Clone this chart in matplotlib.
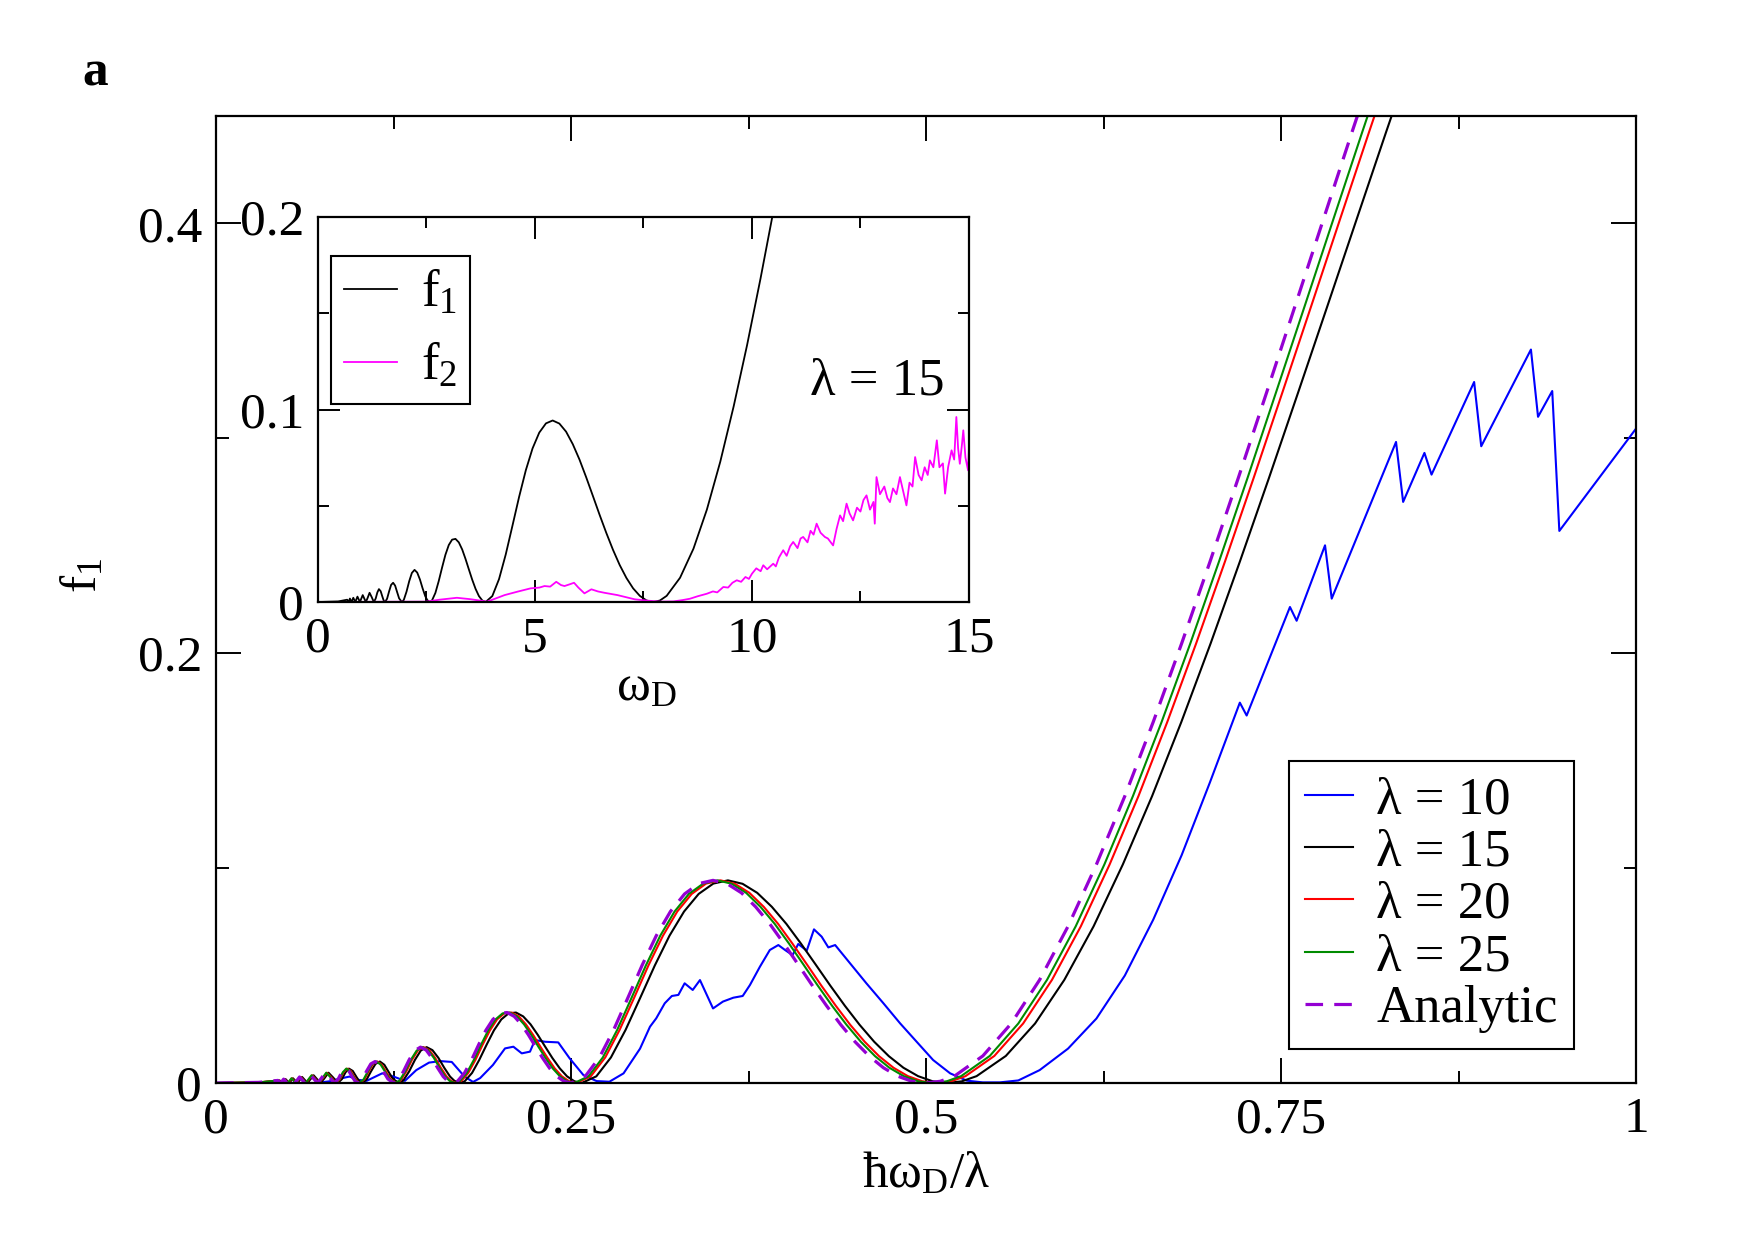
import matplotlib.pyplot as plt
from matplotlib.ticker import MultipleLocator

plt.rcParams['font.family'] = ['Liberation Serif', 'DejaVu Serif']
plt.rcParams['mathtext.fontset'] = 'custom'
plt.rcParams['mathtext.rm'] = 'Liberation Serif'
plt.rcParams['mathtext.it'] = 'Liberation Serif:italic'

# --- data ---------------------------------------------------------------
# hbar*omega_D / lambda positions of the analytic curve
x_analytic = [0.0, 0.03, 0.0435, 0.0455, 0.0476, 0.05, 0.0526, 0.0556, 0.0588, 0.0625,
              0.0667, 0.0714, 0.074, 0.0769, 0.080, 0.0833, 0.086, 0.0885, 0.0909, 0.0935,
              0.096, 0.098, 0.1, 0.103, 0.106, 0.109, 0.112, 0.115, 0.118, 0.121,
              0.125, 0.128, 0.132, 0.136, 0.140, 0.144, 0.148, 0.152, 0.156, 0.160,
              0.163, 0.1667, 0.17, 0.175, 0.18, 0.185, 0.19, 0.195, 0.20, 0.205,
              0.21, 0.215, 0.22, 0.225, 0.23, 0.235, 0.24, 0.245, 0.25, 0.26,
              0.27, 0.28, 0.29, 0.30, 0.31, 0.32, 0.33, 0.34, 0.35, 0.36,
              0.37, 0.38, 0.39, 0.40, 0.41, 0.42, 0.43, 0.44, 0.45, 0.46,
              0.47, 0.48, 0.49, 0.50, 0.51, 0.52, 0.54, 0.56, 0.58, 0.60,
              0.62, 0.64, 0.66, 0.68, 0.70, 0.72, 0.74, 0.76, 0.78, 0.80, 0.82]
# the lambda = 15, 20, 25 curves have the same heights, slightly shifted right
x_l15 = [0.0, 0.0309, 0.0448, 0.0469, 0.0490, 0.0515, 0.0542, 0.0573, 0.0606, 0.0644,
         0.0687, 0.0735, 0.0762, 0.0792, 0.0824, 0.0858, 0.0886, 0.0912, 0.0936, 0.0963,
         0.0989, 0.1009, 0.103, 0.1061, 0.1092, 0.1123, 0.1154, 0.1185, 0.1215, 0.1246,
         0.1288, 0.1318, 0.1360, 0.1401, 0.1442, 0.1483, 0.1524, 0.1566, 0.1607, 0.1648,
         0.1679, 0.1717, 0.1751, 0.1803, 0.1854, 0.1906, 0.1957, 0.2009, 0.206, 0.2112,
         0.2163, 0.2215, 0.2266, 0.2318, 0.2369, 0.2421, 0.2472, 0.2524, 0.2575, 0.2678,
         0.2781, 0.2884, 0.2987, 0.309, 0.3193, 0.3296, 0.3399, 0.3502, 0.3605, 0.3708,
         0.3811, 0.3914, 0.4017, 0.412, 0.4223, 0.4326, 0.4429, 0.4532, 0.4635, 0.4738,
         0.4841, 0.4944, 0.5047, 0.515, 0.5253, 0.5356, 0.5562, 0.5768, 0.5974, 0.618,
         0.6386, 0.6592, 0.6798, 0.7004, 0.721, 0.7416, 0.7622, 0.7828, 0.8034, 0.824, 0.8446]
x_l20 = [0.0, 0.0305, 0.0442, 0.0462, 0.0483, 0.0508, 0.0534, 0.0564, 0.0597, 0.0634,
         0.0677, 0.0725, 0.0751, 0.0781, 0.0812, 0.0845, 0.0873, 0.0898, 0.0923, 0.0949,
         0.0974, 0.0995, 0.1015, 0.1045, 0.1076, 0.1106, 0.1137, 0.1167, 0.1198, 0.1228,
         0.1269, 0.1299, 0.1340, 0.1380, 0.1421, 0.1462, 0.1502, 0.1543, 0.1583, 0.1624,
         0.1654, 0.1692, 0.1726, 0.1776, 0.1827, 0.1878, 0.1929, 0.1979, 0.2030, 0.2081,
         0.2132, 0.2182, 0.2233, 0.2284, 0.2335, 0.2385, 0.2436, 0.2487, 0.2538, 0.2639,
         0.2741, 0.2842, 0.2944, 0.3045, 0.3147, 0.3248, 0.3350, 0.3451, 0.3553, 0.3654,
         0.3756, 0.3857, 0.3959, 0.4060, 0.4162, 0.4263, 0.4365, 0.4466, 0.4568, 0.4669,
         0.4771, 0.4872, 0.4974, 0.5075, 0.5177, 0.5278, 0.5481, 0.5684, 0.5887, 0.6090,
         0.6293, 0.6496, 0.6699, 0.6902, 0.7105, 0.7308, 0.7511, 0.7714, 0.7917, 0.8120, 0.8323]
x_l25 = [0.0, 0.0303, 0.0439, 0.0459, 0.0480, 0.0505, 0.0531, 0.0561, 0.0593, 0.0631,
         0.0673, 0.0720, 0.0747, 0.0776, 0.0807, 0.0840, 0.0868, 0.0893, 0.0917, 0.0943,
         0.0969, 0.0989, 0.1009, 0.1039, 0.1070, 0.1100, 0.1130, 0.1160, 0.1191, 0.1221,
         0.1261, 0.1292, 0.1332, 0.1372, 0.1413, 0.1453, 0.1493, 0.1534, 0.1574, 0.1614,
         0.1645, 0.1682, 0.1715, 0.1766, 0.1816, 0.1867, 0.1917, 0.1968, 0.2018, 0.2068,
         0.2119, 0.2169, 0.2220, 0.2270, 0.2321, 0.2371, 0.2422, 0.2472, 0.2523, 0.2623,
         0.2724, 0.2825, 0.2926, 0.3027, 0.3128, 0.3229, 0.3330, 0.3431, 0.3532, 0.3632,
         0.3733, 0.3834, 0.3935, 0.4036, 0.4137, 0.4238, 0.4339, 0.4440, 0.4541, 0.4641,
         0.4742, 0.4843, 0.4944, 0.5045, 0.5146, 0.5247, 0.5449, 0.5650, 0.5852, 0.6054,
         0.6256, 0.6457, 0.6659, 0.6861, 0.7063, 0.7265, 0.7466, 0.7668, 0.7870, 0.8072, 0.8274]
f1_vals = [0.0, 0.0003, 0.0012, 0.0, 0.0018, 0.0, 0.0022, 0.0, 0.0028, 0.0,
           0.0036, 0.0, 0.0021, 0.0048, 0.0026, 0.0, 0.0018, 0.0050, 0.0067, 0.0056,
           0.0028, 0.0008, 0.0, 0.0017, 0.0055, 0.0089, 0.0100, 0.0085, 0.0052, 0.0019,
           0.0, 0.0011, 0.0054, 0.0108, 0.0151, 0.0167, 0.0153, 0.0117, 0.0071, 0.0030,
           0.0010, 0.0, 0.0008, 0.0047, 0.0108, 0.0179, 0.0245, 0.0296, 0.0324, 0.0328,
           0.0310, 0.0273, 0.0224, 0.0169, 0.0116, 0.0068, 0.0031, 0.0008, 0.0, 0.0031,
           0.0119, 0.0247, 0.0396, 0.0547, 0.0685, 0.0798, 0.0880, 0.0928, 0.0943, 0.0927,
           0.0885, 0.0820, 0.0740, 0.0648, 0.0551, 0.0453, 0.0359, 0.0271, 0.0192, 0.0125,
           0.0071, 0.0032, 0.0008, 0.0, 0.0008, 0.0032, 0.0126, 0.0277, 0.0480, 0.0729,
           0.1017, 0.1335, 0.1680, 0.2045, 0.2426, 0.2817, 0.3216, 0.3618, 0.4022, 0.4425, 0.4822]

# lambda = 10 (not converged, jagged)
x_l10 = [0.0, 0.07, 0.08, 0.087, 0.094, 0.1, 0.106, 0.117, 0.125, 0.133,
         0.141, 0.15, 0.158, 0.166, 0.175, 0.181, 0.186, 0.195, 0.2035, 0.2094,
         0.2153, 0.2211, 0.2246, 0.2317, 0.241, 0.249, 0.2587, 0.268, 0.277, 0.287,
         0.2986, 0.3056, 0.31, 0.316, 0.321, 0.3256, 0.33, 0.3357, 0.3408, 0.35,
         0.357, 0.3643, 0.3709, 0.376, 0.383, 0.39, 0.396, 0.4007, 0.406, 0.41,
         0.416, 0.4211, 0.4265, 0.4312, 0.436, 0.4465, 0.458, 0.47, 0.4817, 0.4934,
         0.505, 0.517, 0.5287, 0.54, 0.552, 0.565, 0.58, 0.60, 0.62, 0.64,
         0.66, 0.68, 0.70, 0.721, 0.7258, 0.7563, 0.761, 0.781, 0.7857, 0.831,
         0.836, 0.851, 0.856, 0.886, 0.891, 0.926, 0.931, 0.941, 0.946, 1.0]
f1_l10 = [0.0, 0.0, 0.0008, 0.002, 0.003, 0.0015, 0.001, 0.0045, 0.003, 0.001,
          0.006, 0.0095, 0.0102, 0.0098, 0.003, 0.0005, 0.0023, 0.0084, 0.0161, 0.0169,
          0.0138, 0.0146, 0.0200, 0.0192, 0.0189, 0.0115, 0.0037, 0.0009, 0.0006, 0.0045,
          0.016, 0.0262, 0.0301, 0.0371, 0.0405, 0.041, 0.0464, 0.0433, 0.0479, 0.0347,
          0.0379, 0.0397, 0.0405, 0.0456, 0.0541, 0.0619, 0.0642, 0.0619, 0.0595, 0.0647,
          0.0616, 0.0715, 0.0681, 0.0631, 0.0642, 0.0557, 0.0464, 0.0371, 0.0278, 0.0192,
          0.0107, 0.0045, 0.0011, 0.0003, 0.0003, 0.0012, 0.006, 0.016, 0.030, 0.050,
          0.076, 0.106, 0.140, 0.177, 0.171, 0.2215, 0.2151, 0.2502, 0.2254, 0.2983,
          0.2704, 0.2932, 0.2831, 0.3262, 0.2963, 0.3413, 0.31, 0.322, 0.2569, 0.3045]

# inset: f2 for lambda = 15 against omega_D
w_f2 = [0.0, 2.5, 2.8, 3.2, 3.5, 3.9, 4.3, 4.6, 4.9, 5.1,
        5.22, 5.35, 5.49, 5.6, 5.68, 5.8, 5.9, 6.0, 6.14, 6.3,
        6.45, 6.6, 6.9, 7.3, 7.6, 7.9, 8.19, 8.4, 8.57, 8.75,
        8.96, 9.1, 9.2, 9.34, 9.45, 9.55, 9.65, 9.75, 9.85, 9.93,
        10.0, 10.1, 10.2, 10.26, 10.35, 10.49, 10.55, 10.62, 10.72, 10.8,
        10.88, 10.95, 11.05, 11.12, 11.18, 11.28, 11.35, 11.42, 11.49, 11.58,
        11.68, 11.75, 11.87, 11.95, 12.03, 12.1, 12.18, 12.25, 12.33, 12.42,
        12.5, 12.57, 12.64, 12.72, 12.8, 12.83, 12.87, 12.95, 13.05, 13.12,
        13.18, 13.25, 13.33, 13.41, 13.48, 13.56, 13.63, 13.7, 13.76, 13.84,
        13.91, 13.98, 14.05, 14.1, 14.18, 14.26, 14.32, 14.4, 14.45, 14.52,
        14.6, 14.66, 14.71, 14.75, 14.79, 14.84, 14.87, 14.92, 14.98, 15.0]
f2_vals = [0.0, 0.0002, 0.0012, 0.0022, 0.0015, 0.0002, 0.0036, 0.0054, 0.0071, 0.0075,
           0.0083, 0.0080, 0.0105, 0.0088, 0.0083, 0.0092, 0.0100, 0.0075, 0.0045, 0.0066,
           0.0055, 0.0048, 0.0036, 0.0014, 0.0007, 0.0002, 0.0003, 0.0010, 0.0017, 0.0030,
           0.0043, 0.0055, 0.0050, 0.0078, 0.0075, 0.0100, 0.0113, 0.0105, 0.0130, 0.0120,
           0.0147, 0.0175, 0.0160, 0.0191, 0.0170, 0.0199, 0.0185, 0.0230, 0.0269, 0.0240,
           0.0290, 0.0312, 0.0280, 0.0330, 0.0338, 0.0310, 0.0370, 0.0350, 0.0407, 0.0360,
           0.0338, 0.0330, 0.0294, 0.0380, 0.0450, 0.0420, 0.0511, 0.0460, 0.0424, 0.0490,
           0.0470, 0.0530, 0.0554, 0.0480, 0.0520, 0.0407, 0.0649, 0.0560, 0.0600, 0.0540,
           0.0519, 0.0590, 0.0560, 0.0649, 0.0580, 0.0502, 0.0620, 0.0600, 0.0753, 0.0660,
           0.0632, 0.0700, 0.0660, 0.0736, 0.0700, 0.0840, 0.0700, 0.0720, 0.0563, 0.0700,
           0.0788, 0.0740, 0.0961, 0.0800, 0.0718, 0.0820, 0.0892, 0.0750, 0.0684, 0.0800]
lam_inset = 15

FS = 37
LW = 1.5

def style_axes(a, major, minor):
    a.tick_params(which='both', direction='in', top=True, right=True,
                  width=1.4, labelsize=FS, pad=10)
    a.tick_params(which='major', length=major)
    a.tick_params(which='minor', length=minor)
    for s in a.spines.values():
        s.set_linewidth(1.6)

fig = plt.figure(figsize=(17.55, 12.4), dpi=100)

# main panel
ax = fig.add_axes([0.1231, 0.1266, 0.8091, 0.7799])
ax.plot(x_l10, f1_l10, color='#0000ff', lw=LW, label='λ = 10')
ax.plot(x_l15, f1_vals, color='black', lw=LW, label='λ = 15')
ax.plot(x_l20, f1_vals, color='#ff0000', lw=LW, label='λ = 20')
ax.plot(x_l25, f1_vals, color='#008b00', lw=LW, label='λ = 25')
ax.plot(x_analytic, f1_vals, color='#9400d3', lw=2.3, dashes=(5.5, 3.5), label='Analytic')
ax.set_xlim(0, 1)
ax.set_ylim(0, 0.45)
ax.set_xticks([0, 0.25, 0.5, 0.75, 1], ['0', '0.25', '0.5', '0.75', '1'])
ax.set_yticks([0, 0.2, 0.4], ['0', '0.2', '0.4'])
ax.xaxis.set_minor_locator(MultipleLocator(0.125))
ax.yaxis.set_minor_locator(MultipleLocator(0.1))
style_axes(ax, 18, 9)
ax.text(0.5, -0.095, 'ħω$_\\mathrm{D}$/λ', transform=ax.transAxes,
        ha='center', va='center', fontsize=FS)
ax.text(-0.093, 0.525, 'f$_\\mathrm{1}$', transform=ax.transAxes, rotation=90,
        ha='center', va='center', fontsize=FS)
leg = ax.legend(loc='lower right', bbox_to_anchor=(0.956, 0.035), fontsize=38,
                fancybox=False, edgecolor='black', framealpha=1,
                handlelength=0.9, handletextpad=0.45, labelspacing=0.08,
                borderpad=0.3, borderaxespad=0)
leg.get_frame().set_linewidth(1.5)

fig.text(0.054, 0.941, 'a', fontsize=FS, fontweight='bold', ha='center', va='center')

# inset
axi = fig.add_axes([0.1812, 0.5145, 0.3709, 0.3105])
axi.set_facecolor('white')
axi.plot([lam_inset * v for v in x_l15], f1_vals, color='black', lw=1.3, label='f$_\\mathrm{1}$')
axi.plot(w_f2, f2_vals, color='#ff00ff', lw=1.3, label='f$_\\mathrm{2}$')
axi.set_xlim(0, 15)
axi.set_ylim(0, 0.2)
axi.set_xticks([0, 5, 10, 15], ['0', '5', '10', '15'])
axi.set_yticks([0, 0.1, 0.2], ['0', '0.1', '0.2'])
axi.xaxis.set_minor_locator(MultipleLocator(2.5))
axi.yaxis.set_minor_locator(MultipleLocator(0.05))
style_axes(axi, 16, 8)
axi.text(0.504, -0.223, 'ω$_\\mathrm{D}$', transform=axi.transAxes,
         ha='center', va='center', fontsize=FS)
axi.text(0.962, 0.574, 'λ = 15', transform=axi.transAxes,
         ha='right', va='center', fontsize=38)
legi = axi.legend(loc='upper left', bbox_to_anchor=(0.02, 0.899), fontsize=38,
                  fancybox=False, edgecolor='black', framealpha=1,
                  handlelength=1.0, handletextpad=0.45, labelspacing=0.45,
                  borderpad=0.25, borderaxespad=0)
legi.get_frame().set_linewidth(1.5)

fig.savefig('out.png', dpi=100)
